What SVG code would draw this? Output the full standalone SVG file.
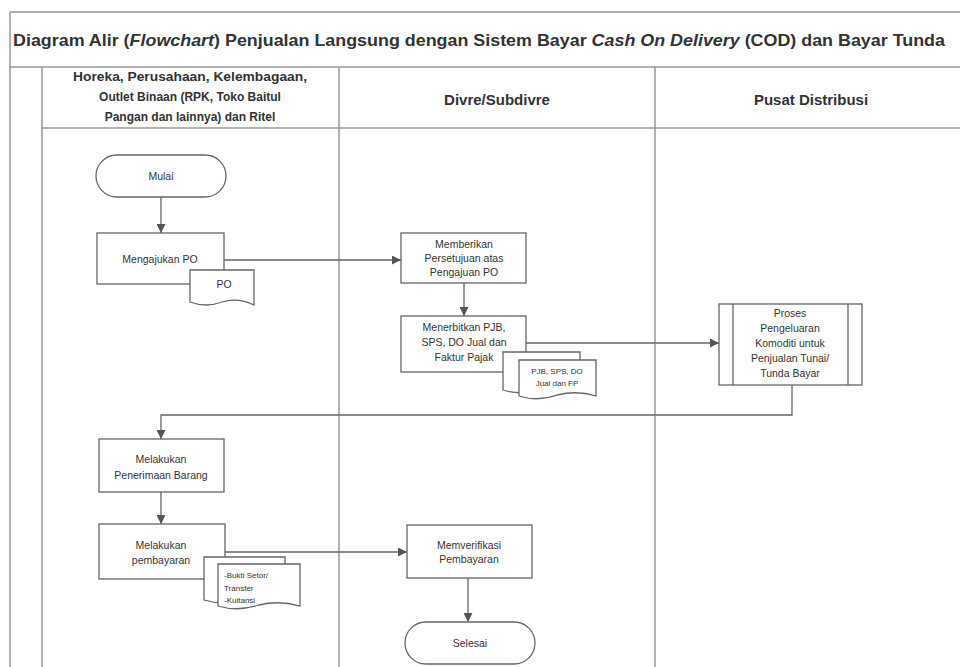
<svg xmlns="http://www.w3.org/2000/svg" width="960" height="667" viewBox="0 0 960 667">
<defs>
<marker id="arr" viewBox="0 0 10 10" refX="10" refY="5" markerWidth="9" markerHeight="9" markerUnits="userSpaceOnUse" orient="auto">
<path d="M0,0 L10,5 L0,10 Z" fill="#555"/>
</marker>
</defs>
<style>
.frame{stroke:#999;stroke-width:1.5;fill:none}
.box{fill:#fff;stroke:#666;stroke-width:1.3}
.con{fill:none;stroke:#666;stroke-width:1.3}
text{font-family:"Liberation Sans",Arial,sans-serif;fill:#333}
.t{font-size:10.5px;text-anchor:middle}
.s{font-size:8px}
.h{font-weight:bold;text-anchor:middle}
</style>
<rect width="960" height="667" fill="#fff"/>
<g id="frame">
<line class="frame" x1="10" y1="12" x2="960" y2="12"/>
<line class="frame" x1="10" y1="12" x2="10" y2="667"/>
<line class="frame" x1="10" y1="67" x2="960" y2="67"/>
<line class="frame" x1="42" y1="67" x2="42" y2="667"/>
<line class="frame" x1="42" y1="128" x2="960" y2="128"/>
<line class="frame" x1="339" y1="67" x2="339" y2="667"/>
<line class="frame" x1="655" y1="67" x2="655" y2="667"/>
<text x="13" y="46" font-size="16.5" font-weight="bold" textLength="932" lengthAdjust="spacingAndGlyphs">Diagram Alir (<tspan font-style="italic">Flowchart</tspan>) Penjualan Langsung dengan Sistem Bayar <tspan font-style="italic">Cash On Delivery</tspan> (COD) dan Bayar Tunda</text>
<text class="h" x="190" y="81" font-size="12" textLength="234" lengthAdjust="spacingAndGlyphs">Horeka, Perusahaan, Kelembagaan,</text>
<text class="h" x="190" y="101" font-size="12">Outlet Binaan (RPK, Toko Baitul</text>
<text class="h" x="190" y="121" font-size="12">Pangan dan lainnya) dan Ritel</text>
<text class="h" x="497" y="105" font-size="15">Divre/Subdivre</text>
<text class="h" x="811" y="105" font-size="15">Pusat Distribusi</text>
</g>
<g id="connectors">
<line class="con" x1="161" y1="197" x2="161" y2="233" marker-end="url(#arr)"/>
<line class="con" x1="224" y1="260" x2="401" y2="260" marker-end="url(#arr)"/>
<line class="con" x1="464" y1="283" x2="464" y2="316" marker-end="url(#arr)"/>
<line class="con" x1="526" y1="343" x2="719" y2="343" marker-end="url(#arr)"/>
<polyline class="con" points="792,385 792,415 161,415 161,439" marker-end="url(#arr)"/>
<line class="con" x1="161" y1="492" x2="161" y2="524" marker-end="url(#arr)"/>
<line class="con" x1="225" y1="552" x2="407" y2="552" marker-end="url(#arr)"/>
<line class="con" x1="468" y1="578" x2="468" y2="622" marker-end="url(#arr)"/>
</g>
<g id="mulai">
<rect class="box" x="96" y="155" width="130" height="42" rx="21"/>
<text class="t" x="161" y="180">Mulai</text>
</g>
<g id="mengajukan">
<rect class="box" x="97" y="233" width="127" height="51"/>
<text class="t" x="160" y="263">Mengajukan PO</text>
</g>
<g id="doc-po">
<path class="box" d="M190,270 H254 V305 Q238,297 222,302 Q206,308 190,302 Z"/>
<text class="t" x="224" y="288" font-size="9">PO</text>
</g>
<g id="memberikan">
<rect class="box" x="401" y="233" width="125" height="50"/>
<text class="t" x="464" y="248">Memberikan</text>
<text class="t" x="464" y="262">Persetujuan atas</text>
<text class="t" x="464" y="276">Pengajuan PO</text>
</g>
<g id="menerbitkan">
<rect class="box" x="401" y="316" width="125" height="56"/>
<text class="t" x="464" y="331">Menerbitkan PJB,</text>
<text class="t" x="464" y="346">SPS, DO Jual dan</text>
<text class="t" x="464" y="361">Faktur Pajak</text>
</g>
<g id="doc-pjb">
<path class="box" d="M503,352 H580 V390 Q560,384 541,389 Q522,396 503,390 Z"/>
<path class="box" d="M519,360 H596 V396 Q577,390 557,395 Q538,402 519,396 Z"/>
<text class="t s" x="557" y="374">PJB, SPS, DO</text>
<text class="t s" x="557" y="386">Jual dan FP</text>
</g>
<g id="proses">
<rect class="box" x="719" y="304" width="143" height="81"/>
<line class="con" x1="733" y1="304" x2="733" y2="385"/>
<line class="con" x1="848" y1="304" x2="848" y2="385"/>
<text class="t" x="790" y="317">Proses</text>
<text class="t" x="790" y="332">Pengeluaran</text>
<text class="t" x="790" y="347">Komoditi untuk</text>
<text class="t" x="790" y="362">Penjualan Tunai/</text>
<text class="t" x="790" y="377">Tunda Bayar</text>
</g>
<g id="penerimaan">
<rect class="box" x="99" y="439" width="125" height="53"/>
<text class="t" x="161" y="463">Melakukan</text>
<text class="t" x="161" y="479">Penerimaan Barang</text>
</g>
<g id="pembayaran">
<rect class="box" x="99" y="524" width="126" height="55"/>
<text class="t" x="161" y="549">Melakukan</text>
<text class="t" x="161" y="564">pembayaran</text>
</g>
<g id="doc-bukti">
<path class="box" d="M204,557 H285 V600 Q265,594 244,599 Q224,606 204,600 Z"/>
<path class="box" d="M218,564 H300 V606 Q279,600 259,605 Q238,612 218,606 Z"/>
<text class="s" x="224" y="578">-Bukti Setor/</text>
<text class="s" x="224" y="591">Transfer</text>
<text class="s" x="224" y="603">-Kuitansi</text>
</g>
<g id="memverifikasi">
<rect class="box" x="407" y="525" width="125" height="53"/>
<text class="t" x="469" y="549">Memverifikasi</text>
<text class="t" x="469" y="563">Pembayaran</text>
</g>
<g id="selesai">
<rect class="box" x="405" y="622" width="130" height="42" rx="21"/>
<text class="t" x="470" y="647">Selesai</text>
</g>
</svg>
